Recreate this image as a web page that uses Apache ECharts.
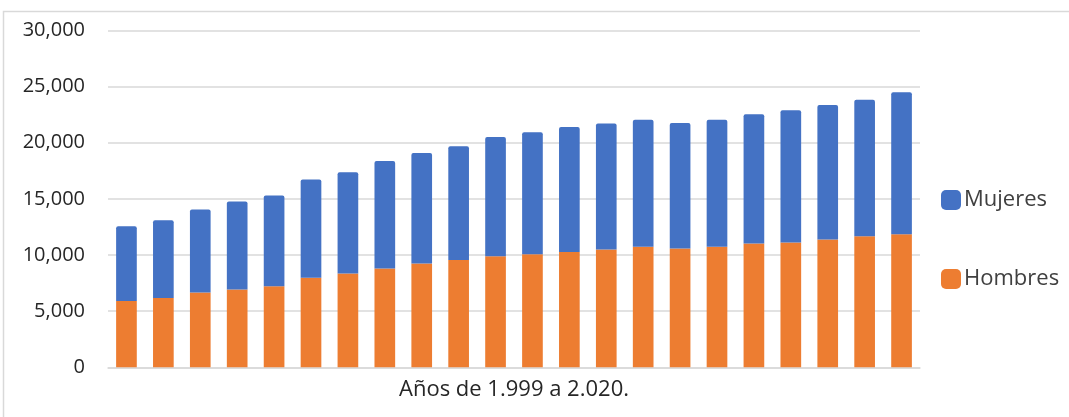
<!DOCTYPE html>
<html>
<head>
<meta charset="utf-8">
<script src="https://cdn.jsdelivr.net/npm/echarts@6/dist/echarts.min.js"></script>
<style>
  html, body { margin: 0; padding: 0; background: #fff; }
  #chart { width: 1069px; height: 417px; }
</style>
</head>
<body>
<div id="chart"></div>
<script>
// años 1999 - 2020
const years = ['1999','2000','2001','2002','2003','2004','2005','2006','2007','2008','2009',
  '2010','2011','2012','2013','2014','2015','2016','2017','2018','2019','2020'];
const hombres = [5900, 6170, 6670, 6940, 7230, 7970, 8360, 8810, 9250, 9550, 9900,
  10080, 10280, 10500, 10730, 10590, 10730, 11030, 11120, 11390, 11680, 11860];
const mujeres = [6670, 6930, 7390, 7830, 8070, 8760, 9020, 9570, 9840, 10140, 10620,
  10850, 11130, 11210, 11330, 11170, 11330, 11510, 11770, 11970, 12160, 12630];
const yTicks = [0, 5000, 10000, 15000, 20000, 25000, 30000];

const chart = echarts.init(document.getElementById('chart'));
const font = 'Open Sans';

const option = {
  animation: false,
  textStyle: { fontFamily: font },
  graphic: [{
    type: 'rect',
    shape: { x: 3.5, y: 11.5, width: 1080, height: 420 },
    style: { fill: 'none', stroke: '#d9d9d9', lineWidth: 1.5 },
    silent: true
  }],
  grid: { left: 108, right: 149, top: 30.5, bottom: 49.7 },
  legend: {
    data: ['Mujeres', 'Hombres'],
    orient: 'vertical',
    left: 936,
    top: 184,
    itemWidth: 20,
    itemHeight: 20,
    itemGap: 57,
    icon: 'roundRect',
    textStyle: { fontSize: 22, color: '#404040', fontFamily: font, padding: [0, 0, 0, -2] }
  },
  xAxis: {
    type: 'category',
    data: years,
    name: 'Años de 1.999 a 2.020.',
    nameLocation: 'middle',
    nameGap: 11,
    nameTextStyle: { fontSize: 22, color: '#262626', fontFamily: font },
    axisLabel: { show: false },
    axisTick: { show: false },
    axisLine: { lineStyle: { color: '#d9d9d9', width: 1.5 } }
  },
  yAxis: {
    type: 'value',
    min: yTicks[0],
    max: yTicks[yTicks.length - 1],
    interval: 5000,
    axisLabel: {
      fontSize: 20,
      color: '#262626',
      fontFamily: font,
      margin: 23,
      formatter: v => v.toLocaleString('en-US')
    },
    splitLine: { lineStyle: { color: '#d9d9d9', width: 1.5 } }
  },
  series: [
    {
      name: 'Hombres',
      type: 'bar',
      stack: 'total',
      data: hombres,
      barWidth: '56%',
      itemStyle: { color: '#ED7D31' }
    },
    {
      name: 'Mujeres',
      type: 'bar',
      stack: 'total',
      data: mujeres,
      barWidth: '56%',
      itemStyle: { color: '#4472C4', borderRadius: [2, 2, 0, 0] }
    }
  ]
};
chart.setOption(option);
</script>
</body>
</html>
